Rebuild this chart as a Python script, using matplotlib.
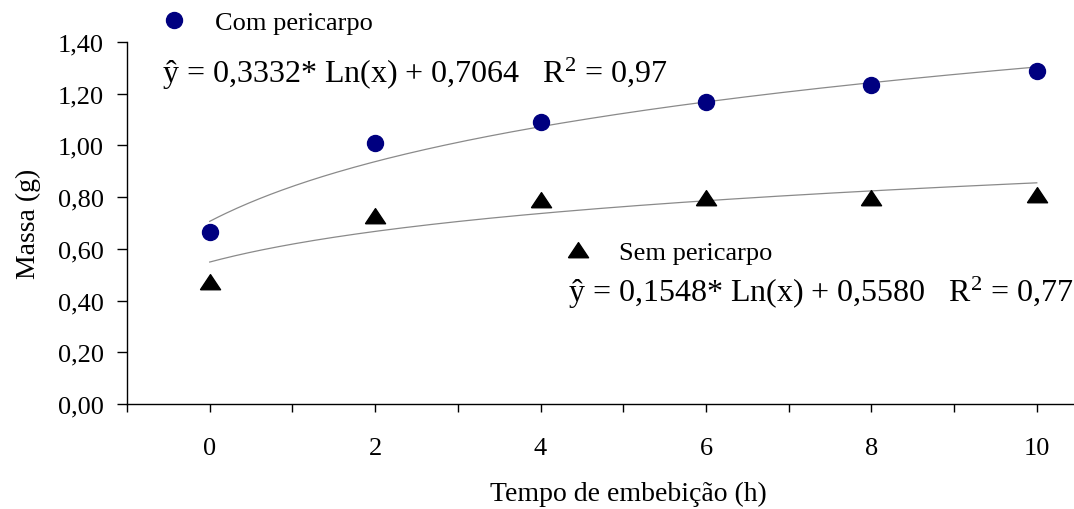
import numpy as np
import matplotlib
matplotlib.use("Agg")
import matplotlib.pyplot as plt
from matplotlib.ticker import FixedLocator, FuncFormatter

plt.rcParams['font.family'] = ['Liberation Serif', 'DejaVu Serif']
plt.rcParams['mathtext.fontset'] = 'custom'
plt.rcParams['mathtext.rm'] = 'Liberation Serif'
plt.rcParams['mathtext.it'] = 'Liberation Serif:italic'

# ---- data ----
hours = [0, 2, 4, 6, 8, 10]
com_pericarpo = [0.665, 1.01, 1.09, 1.168, 1.233, 1.288]
sem_pericarpo = [0.47, 0.728, 0.79, 0.795, 0.798, 0.808]
series_names = ["Com pericarpo", "Sem pericarpo"]
# log trend lines  y = a*ln(i) + b, i = category index (1..6)
trend_a = [0.3332, 0.171]
trend_b = [0.7064, 0.549]
equations = ["ŷ = 0,3332* Ln(x) + 0,7064   R$^2$ = 0,97",
             "ŷ = 0,1548* Ln(x) + 0,5580   R$^2$ = 0,77"]
y_ticks = [0.0, 0.2, 0.4, 0.6, 0.8, 1.0, 1.2, 1.4]
x_minor = [-1, 1, 3, 5, 7, 9]

W, H = 1074, 510
fig = plt.figure(figsize=(W / 100, H / 100), dpi=100)
ax = fig.add_axes([127 / W, 1 - 405 / H, (W - 127) / W, (405 - 43) / H])

# trend lines
xs = np.linspace(hours[0], hours[-1], 300)
for a, b in zip(trend_a, trend_b):
    idx = xs / 2 + 1
    ax.plot(xs, a * np.log(idx) + b, color='#8a8a8a', lw=0.9, zorder=2)

tri = [(-1, -0.72), (1, -0.72), (0, 0.78), (-1, -0.72)]
l1, = ax.plot(hours, com_pericarpo, 'o', color='#000080', ms=11.5,
              label=series_names[0], zorder=3)
l2, = ax.plot(hours, sem_pericarpo, marker=tri, ls='none', color='black',
              ms=14.5, label=series_names[1], zorder=3)

ax.set_xlim(-1, 10.45)
ax.set_ylim(0, 1.4)
ax.spines['top'].set_visible(False)
ax.spines['right'].set_visible(False)
for s in ('left', 'bottom'):
    ax.spines[s].set_linewidth(1.0)

fs = 19
ax.set_xticks(hours)
ax.set_xticklabels([str(h) for h in hours])
ax.xaxis.set_minor_locator(FixedLocator(x_minor))
ax.set_yticks(y_ticks)
ax.yaxis.set_major_formatter(FuncFormatter(lambda v, p: f"{v:.2f}".replace('.', ',')))
ax.tick_params(axis='both', which='both', direction='out', width=1.0,
               labelsize=fs, colors='black')
ax.tick_params(axis='x', which='both', length=6)
ax.tick_params(axis='x', which='major', pad=18)
ax.tick_params(axis='y', length=7, pad=9.5)

ax.set_xlabel("Tempo de embebição (h)", fontsize=20)
ax.set_ylabel("Massa (g)", fontsize=20)
ax.xaxis.set_label_coords((628 - 127) / 947, (405 - 482) / 362)
ax.yaxis.set_label_coords((41 - 127) / 947, 0.5)

# legends
leg1 = fig.legend(handles=[l1], loc='center left', frameon=False, fontsize=fs,
                  bbox_to_anchor=(158 / W, 1 - 23 / H), handlelength=1.2,
                  handletextpad=0.95, borderaxespad=0, borderpad=0)
leg2 = fig.legend(handles=[l2], loc='center left', frameon=False, fontsize=fs,
                  bbox_to_anchor=(562 / W, 1 - 253 / H), handlelength=1.2,
                  handletextpad=0.95, borderaxespad=0, borderpad=0)

# equations
fig.text(162 / W, 1 - 83 / H, equations[0], fontsize=23, va='baseline', ha='left')
fig.text(568 / W, 1 - 302 / H, equations[1], fontsize=23, va='baseline', ha='left')

fig.savefig("out.png", dpi=100)
